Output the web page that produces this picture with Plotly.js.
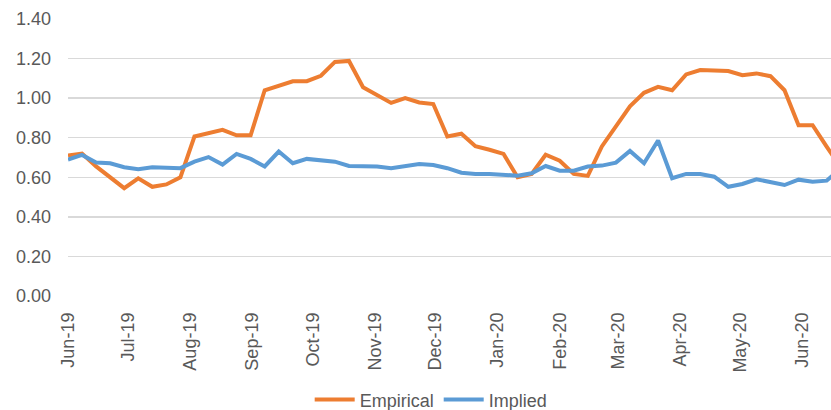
<!DOCTYPE html>
<html>
<head>
<meta charset="utf-8">
<script src="https://cdn.plot.ly/plotly-3.0.1.min.js"></script>
<style>
  html, body { margin: 0; padding: 0; background: #ffffff; }
  #chart { width: 831px; height: 410px; }
</style>
</head>
<body>
<div id="chart"></div>
<script>
// Weekly observation dates
const weeks = [
  '2019-06-07','2019-06-14','2019-06-21','2019-06-28','2019-07-05','2019-07-12','2019-07-19','2019-07-26',
  '2019-08-02','2019-08-09','2019-08-16','2019-08-23','2019-08-30','2019-09-06','2019-09-13','2019-09-20',
  '2019-09-27','2019-10-04','2019-10-11','2019-10-18','2019-10-25','2019-11-01','2019-11-08','2019-11-15',
  '2019-11-22','2019-11-29','2019-12-06','2019-12-13','2019-12-20','2019-12-27','2020-01-03','2020-01-10',
  '2020-01-17','2020-01-24','2020-01-31','2020-02-07','2020-02-14','2020-02-21','2020-02-28','2020-03-06',
  '2020-03-13','2020-03-20','2020-03-27','2020-04-03','2020-04-10','2020-04-17','2020-04-24','2020-05-01',
  '2020-05-08','2020-05-15','2020-05-22','2020-05-29','2020-06-05','2020-06-12','2020-06-19','2020-06-26'
];

// Empirical series
const empirical = [
  0.71, 0.72, 0.655, 0.60, 0.545, 0.595, 0.552, 0.564,
  0.60, 0.806, 0.824, 0.840, 0.812, 0.812, 1.040, 1.060,
  1.085, 1.086, 1.113, 1.183, 1.188, 1.055, 1.015, 0.976,
  1.000, 0.978, 0.970, 0.806, 0.820, 0.757, 0.739, 0.718,
  0.600, 0.617, 0.714, 0.684, 0.617, 0.607, 0.756, 0.861,
  0.959, 1.027, 1.057, 1.040, 1.120, 1.142, 1.137, 1.137,
  1.116, 1.125, 1.111, 1.040, 0.863, 0.863, 0.755, 0.65
];

// Implied series
const implied = [
  0.690, 0.713, 0.675, 0.671, 0.651, 0.641, 0.651, 0.646,
  0.646, 0.679, 0.702, 0.664, 0.718, 0.693, 0.655, 0.730,
  0.671, 0.693, 0.688, 0.679, 0.657, 0.657, 0.654, 0.646,
  0.657, 0.667, 0.662, 0.646, 0.623, 0.617, 0.617, 0.612,
  0.608, 0.620, 0.657, 0.633, 0.633, 0.654, 0.659, 0.674,
  0.733, 0.671, 0.786, 0.595, 0.617, 0.617, 0.603, 0.552,
  0.566, 0.590, 0.574, 0.561, 0.588, 0.578, 0.583, 0.645
];

const seriesNames = ['Empirical', 'Implied'];
const seriesColors = ['#ED7D31', '#5B9BD5'];

const textColor = '#595959';
const fontFamily = '"Liberation Sans", Arial, sans-serif';

const traces = [empirical, implied].map((vals, i) => ({
  type: 'scatter',
  mode: 'lines',
  name: seriesNames[i],
  x: weeks,
  y: vals,
  line: { color: seriesColors[i], width: 4, shape: 'linear' },
  hoverinfo: 'x+y+name'
}));

const layout = {
  width: 831,
  height: 410,
  margin: { l: 68, r: 0, t: 19, b: 114, pad: 0, autoexpand: false },
  paper_bgcolor: '#ffffff',
  plot_bgcolor: '#ffffff',
  font: { family: fontFamily, size: 18, color: textColor },
  showlegend: true,
  legend: {
    orientation: 'h',
    x: 0.476,
    xanchor: 'center',
    y: -0.375,
    yanchor: 'middle',
    font: { family: fontFamily, size: 18, color: textColor },
    itemwidth: 40,
    itemgap: 36,
    traceorder: 'normal'
  },
  xaxis: {
    type: 'date',
    range: ['2019-06-07', '2020-06-21 04:00'],
    tick0: '2019-06-07',
    dtick: 'M1',
    tickformat: '%b-%y',
    tickangle: -90,
    ticks: '',
    ticklabelstandoff: 12,
    automargin: false,
    showgrid: false,
    zeroline: false,
    showline: false,
    tickfont: { family: fontFamily, size: 18, color: textColor }
  },
  yaxis: {
    range: [0, 1.4],
    dtick: 0.2,
    tick0: 0,
    tickformat: '.2f',
    ticks: '',
    ticklabelstandoff: 16,
    automargin: false,
    showgrid: true,
    gridcolor: '#d9d9d9',
    gridwidth: 1.5,
    zeroline: false,
    showline: false,
    tickfont: { family: fontFamily, size: 18, color: textColor }
  }
};

Plotly.newPlot('chart', traces, layout, { displayModeBar: false, staticPlot: true });
</script>
</body>
</html>
